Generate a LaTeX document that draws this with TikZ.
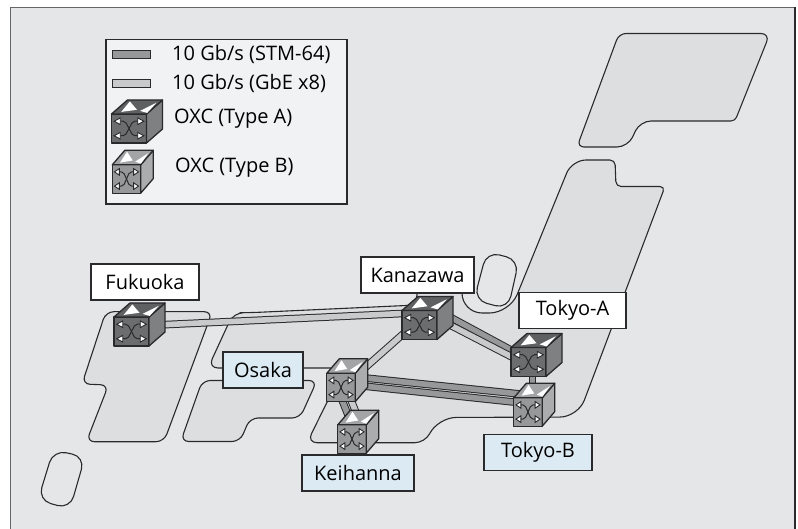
\documentclass[tikz,border=0pt]{standalone}
\usepackage{xcolor}
\usepackage{fontspec}
\setmainfont{Open Sans}
\usetikzlibrary{calc}
\definecolor{sheetgray}{HTML}{E5E6E8}
\definecolor{landgray}{HTML}{DDDEE0}
\definecolor{legendgray}{HTML}{F1F2F4}
\definecolor{edgegray}{HTML}{2A2A2C}
\definecolor{framegray}{HTML}{666769}
\definecolor{stmgray}{HTML}{97989A}
\definecolor{gbegray}{HTML}{C9CACC}
\definecolor{cityblue}{HTML}{DCEAF3}
\definecolor{afront}{HTML}{6C6D6F}
\definecolor{aside}{HTML}{7F8082}
\definecolor{atop}{HTML}{5F6062}
\definecolor{bfront}{HTML}{97989A}
\definecolor{bside}{HTML}{ABACAE}
\definecolor{btop}{HTML}{A3A4A6}

% half width, half height, depth x, depth y, then the three face colours
\newcommand{\oxccube}[7]{
  \draw[edgegray, line width=1.3pt, line join=round, fill=#5] (-#1,-#2) rectangle (#1,#2);
  \draw[edgegray, line width=1.3pt, line join=round, fill=#6]
    (#1,-#2) -- (#1+#3,-#2-#4) -- (#1+#3,#2-#4) -- (#1,#2) -- cycle;
  \draw[edgegray, line width=1.3pt, line join=round, fill=#7]
    (-#1,-#2) -- (-#1+#3,-#2-#4) -- (#1+#3,-#2-#4) -- (#1,-#2) -- cycle;
  \fill[white] ({-#1+0.19*(2*#1+#3)},-#2-0.15*#4) -- ({-#1+0.36*(2*#1+#3)},-#2-0.9*#4)
    -- ({-#1+0.5*(2*#1+#3)},-#2-0.3*#4) -- cycle;
  \fill[white] ({-#1+0.56*(2*#1+#3)},-#2-0.22*#4) -- ({-#1+0.88*(2*#1+#3)},-#2-0.8*#4)
    -- ({-#1+0.7*(2*#1+#3)},-#2-0.08*#4) -- cycle;
  \draw[edgegray, line width=1pt, rounded corners=2pt]
    (-0.5*#1,-0.5*#2) -- (-0.22*#1,-0.5*#2) -- (0.22*#1,0.5*#2) -- (0.5*#1,0.5*#2);
  \draw[edgegray, line width=1pt, rounded corners=2pt]
    (-0.5*#1,0.5*#2) -- (-0.22*#1,0.5*#2) -- (0.22*#1,-0.5*#2) -- (0.5*#1,-0.5*#2);
  \foreach \sx in {-1,1} \foreach \sy in {-1,1}
    \draw[edgegray, line width=0.9pt, fill=white]
      (\sx*0.85*#1,\sy*0.5*#2) -- (\sx*0.5*#1,\sy*0.5*#2-3.3) -- (\sx*0.5*#1,\sy*0.5*#2+3.3) -- cycle;
}

\tikzset{
  oxcA/.pic={\oxccube{17.5}{14.5}{16}{14}{afront}{aside}{atop}},
  oxcB/.pic={\oxccube{14.2}{14.2}{12.5}{14.5}{bfront}{bside}{btop}}
}

\begin{document}
\begin{tikzpicture}[
    x=1pt, y=-1pt,
    font=\fontsize{20}{24}\selectfont,
    land/.style={draw=edgegray, line width=1.1pt, fill=landgray, line join=round, line cap=round},
    islet/.style={draw=edgegray, line width=1.1pt, fill=sheetgray, line cap=round, rounded corners=13pt},
    citybox/.style={rectangle, draw=edgegray, line width=1.3pt, fill=white, inner sep=0pt,
                    minimum width=#1, minimum height=36pt},
    cityboxb/.style={citybox=#1, fill=cityblue},
    cubeanchor/.style={inner sep=0pt, minimum size=0pt},
    stmlink/.style={draw=edgegray, line width=1pt, double=stmgray, double distance=5.6pt},
    gbelink/.style={draw=edgegray, line width=1pt, double=gbegray, double distance=5.6pt},
    legendtext/.style={inner sep=0pt, anchor=west},
    legendbar/.style={rectangle, draw=edgegray, line width=1pt, inner sep=0pt,
                      minimum width=38pt, minimum height=8.5pt}
  ]
    \useasboundingbox (0,0) rectangle (798,529);
    \fill[sheetgray] (10.5,7.5) rectangle (795,529);
    \draw[framegray, line width=1.8pt] (10.5,529) -- (10.5,7.5) -- (795,7.5);
    \draw[edgegray, line width=1.8pt] (795,7.5) -- (795,529);

    % the islands
    \draw[land, rounded corners=9pt] (690,33.5) -- (770,33.5) [rounded corners=4pt] -- (735,121)
      [rounded corners=11pt] -- (640,121) -- (628,147) [rounded corners=7pt] -- (577,147)
      -- (619,33.5) -- (690,33.5);
    \draw[land, rounded corners=15pt] (595,160) [rounded corners=5pt] -- (615,160) -- (616,186.5)
      -- (665,186.5) [rounded corners=18pt] -- (578,417) -- (438,417.5)
      [rounded corners=10pt] -- (425,442.7) -- (307,442.7) -- (344,368)
      -- (208,368) -- (233.5,312.7) -- (250,312.7) -- (417,305) -- (417,270) -- (462,270)
      [rounded corners=20pt] -- (462,313) -- (509.6,313) [rounded corners=14pt] -- (572,160) -- (595,160);
    \draw[land, rounded corners=8pt] (150,311.7) -- (212.3,311.7) -- (164,441.7) -- (86.4,441.7)
      -- (108.5,385) -- (82,384) -- (105.8,311.7) -- (150,311.7);
    \draw[land, rounded corners=8pt] (260,380.5) -- (317,380.5) -- (300,418)
      -- (250,418) -- (240,441.5) -- (180.7,441.5) -- (202.3,380.5) -- (260,380.5);
    \draw[islet] (503,255.9) -- (519,260) -- (508,309) -- (474,300) -- (486.7,251.7) -- (503,255.9);
    \draw[islet] (69,453.4) -- (85,456.7) -- (70,509) -- (38,500) -- (53.3,450) -- (69,453.4);

    \node[cubeanchor] (fukuoka)  at (131.5,331.5) {};
    \node[cubeanchor] (kanazawa) at (419.5,325)   {};
    \node[cubeanchor] (tokyoa)   at (528.5,362)   {};
    \node[cubeanchor] (osaka)    at (341,387.5)   {};
    \node[cubeanchor] (tokyob)   at (528,412)     {};
    \node[cubeanchor] (keihanna) at (352,439)     {};

    \draw[gbelink] ([shift={(0,-5.3)}]fukuoka.center) -- ([shift={(0,-12.3)}]kanazawa.center);
    \draw[gbelink] ([shift={(0,-5.5)}]kanazawa.center) -- ([shift={(0,1.5)}]osaka.center);
    \draw[stmlink] ([shift={(20,-13.6)}]kanazawa.center) -- ([shift={(-8.5,-7.1)}]tokyoa.center);
    \draw[gbelink] ([shift={(20.5,-5.2)}]kanazawa.center) -- ([shift={(-8.5,-0.8)}]tokyoa.center);
    \draw[stmlink] ([shift={(9,-11.1)}]osaka.center) -- ([shift={(-8,-18)}]tokyob.center);
    \draw[stmlink] ([shift={(9,-2.9)}]osaka.center) -- ([shift={(-8,-9.3)}]tokyob.center);
    \draw[stmlink] ([shift={(-1,7.5)}]osaka.center) -- ([shift={(0,-14)}]keihanna.center);
    \draw[gbelink] ([shift={(8,7.5)}]osaka.center) -- ([shift={(9,-14)}]keihanna.center);
    \draw[stmlink] ([shift={(3.8,0)}]tokyoa.center) -- ([shift={(4.3,-20)}]tokyob.center);

    \foreach \city in {fukuoka, kanazawa, tokyoa} \pic at (\city) {oxcA};
    \foreach \city in {osaka, tokyob, keihanna} \pic at (\city) {oxcB};

    \node[citybox=108pt]  (fukuokalabel)  at (145,282)     {Fukuoka};
    \node[citybox=113pt]  (kanazawalabel) at (417.5,275)   {Kanazawa};
    \node[citybox=107pt]  (tokyoalabel)   at (572.5,310.5) {Tokyo-A};
    \node[cityboxb=80pt]  (osakalabel)    at (263,370)     {Osaka};
    \node[cityboxb=108pt] (tokyoblabel)   at (538,452.5)   {Tokyo-B};
    \node[cityboxb=112pt] (keihannalabel) at (358,473)     {Keihanna};

    % legend
    \node[rectangle, draw=edgegray, line width=1.3pt, fill=legendgray, inner sep=0pt,
          minimum width=241pt, minimum height=164.5pt] (legend) at (226.5,121.75) {};
    \node[legendbar, fill=stmgray] (stmbar) at (131,54.5) {};
    \node[legendbar, fill=gbegray] (gbebar) at (131,83.5) {};
    \node[legendtext] (stmtext) at (172,54)  {10 Gb/s (STM-64)};
    \node[legendtext] (gbetext) at (172,83)  {10 Gb/s (GbE x8)};
    \node[legendtext] (atext)   at (174,119) {OXC (Type A)};
    \node[legendtext] (btext)   at (175,168) {OXC (Type B)};
    \node[cubeanchor] (acube) at (129,128.5) {};
    \node[cubeanchor] (bcube) at (126.5,179) {};
    \pic at (acube) {oxcA};
    \pic at (bcube) {oxcB};
\end{tikzpicture}
\end{document}
